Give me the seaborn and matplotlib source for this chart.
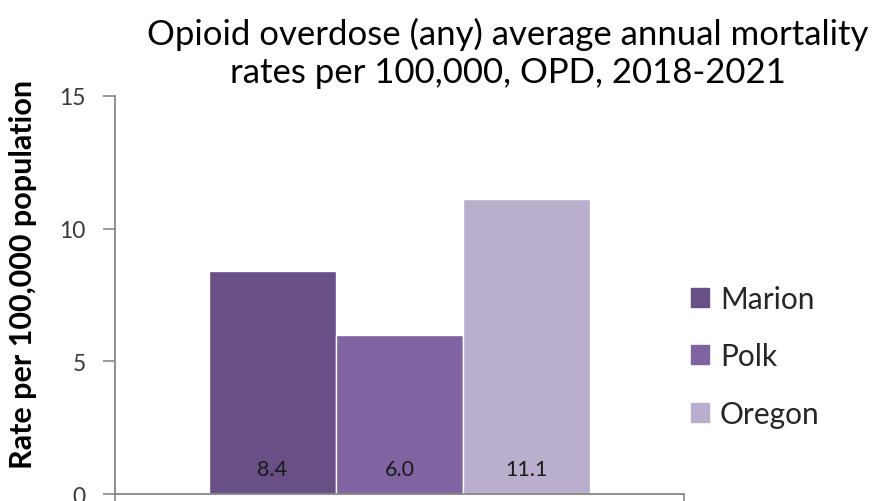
import pandas as pd
import seaborn as sns
import matplotlib.pyplot as plt

# average annual opioid overdose mortality, per 100,000
regions = ["Marion", "Polk", "Oregon"]
rates = [8.4, 6.0, 11.1]
colors = ["#684F86", "#8064A2", "#B9AFCC"]
yticks = [0, 5, 10, 15]

df = pd.DataFrame({"group": [""] * len(regions), "region": regions, "rate": rates})

sns.set_theme(style="white")
plt.rcParams["font.family"] = ["Lato", "DejaVu Sans"]

fig = plt.figure(figsize=(8.73, 5.02), dpi=100)
ax = fig.add_axes([0.1317, 0.0139, 0.6518, 0.7929])

sns.barplot(data=df, x="group", y="rate", hue="region", hue_order=regions,
            palette=colors, saturation=1, width=0.67, ax=ax, legend=False)

for cont in ax.containers:
    for bar in cont:
        ax.text(bar.get_x() + bar.get_width() / 2, 0.95, f"{bar.get_height():.1f}",
                ha="center", va="center", fontsize=15.5, color="#1a1a1a")

ax.set_ylim(0, 15)
ax.set_xlim(-0.5, 0.5)
ax.set_yticks(yticks)
ax.set_yticklabels([str(t) for t in yticks], fontsize=16.5, color="#3a3a3a")
ax.set_xticks([-0.5, 0.5])
ax.set_xticklabels(["", ""])
ax.tick_params(axis="both", direction="out", length=9, width=1.2, color="#868686",
               left=True, bottom=True, pad=12)
ax.set_xlabel("")
ax.set_ylabel("Rate per 100,000 population", fontsize=22, fontweight="bold",
              color="black")
ax.yaxis.set_label_coords(-0.137, 0.553)

for side in ["top", "right"]:
    ax.spines[side].set_visible(False)
for side in ["left", "bottom"]:
    ax.spines[side].set_color("#868686")
    ax.spines[side].set_linewidth(1.3)

fig.text(0.582, 0.894, "Opioid overdose (any) average annual mortality\nrates per 100,000, OPD, 2018-2021",
         ha="center", va="center", fontsize=25, color="black", linespacing=1.22)

handles = [plt.Rectangle((0, 0), 1, 1, color=c) for c in colors]
fig.legend(handles, regions, loc="center left", bbox_to_anchor=(0.792, 0.288),
           frameon=False, fontsize=21.5, handlelength=0.6, handleheight=0.6,
           handletextpad=0.35, labelspacing=1.0, borderpad=0, borderaxespad=0)

fig.savefig("out.png", dpi=100)
